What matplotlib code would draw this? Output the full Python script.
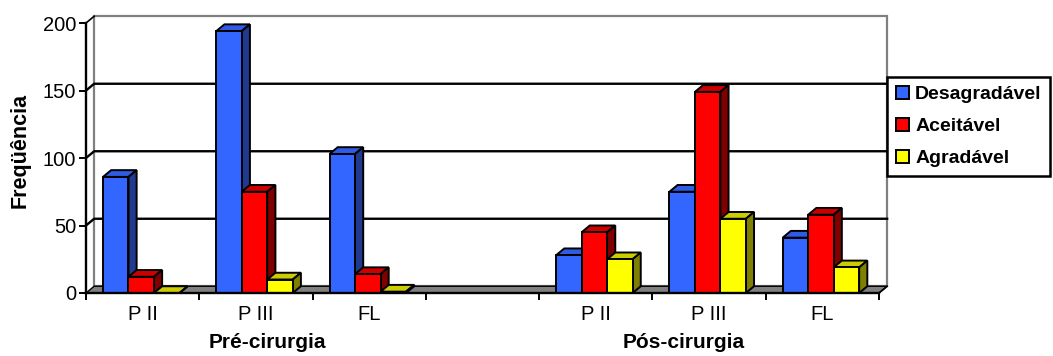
import numpy as np
import matplotlib
matplotlib.use('Agg')
import matplotlib.pyplot as plt
from matplotlib.patches import Polygon, Patch

plt.rcParams['font.family'] = ['Liberation Sans', 'DejaVu Sans']

categories = ['P II', 'P III', 'FL', '', 'P II', 'P III', 'FL']
series = ['Desagradável', 'Aceitável', 'Agradável']
desagradavel = [86, 194, 103, 0, 28, 75, 41]
aceitavel = [12, 75, 14, 0, 45, 149, 58]
agradavel = [0, 10, 1, 0, 25, 55, 19]
has_bar = [True, True, True, False, True, True, True]
groups = ['Pré-cirurgia', 'Pós-cirurgia']
yticks = [0, 50, 100, 150, 200]

front = ['#3366FF', '#FF0000', '#FFFF00']
side = ['#1F3A8F', '#800000', '#808000']
top = ['#2E5CE6', '#CC0000', '#CCCC00']

W, H = 1053, 356
fig = plt.figure(figsize=(W/100, H/100), dpi=100)
ax = fig.add_axes([86/W, (H-293)/H, (879-86)/W, (293-23)/H])
n = len(categories)
ax.set_xlim(0, n)
ax.set_ylim(0, 200)

DX, DY = 0.072, 5.0   # depth offset (category units, value units)
gray = '#808080'

# back wall and floor
ax.add_patch(Polygon([(DX, DY), (n+DX, DY), (n+DX, 200+DY), (DX, 200+DY)],
                     closed=True, fc='white', ec=gray, lw=1.6, clip_on=False, zorder=0))
ax.add_patch(Polygon([(0, 0), (n, 0), (n+DX, DY), (DX, DY)],
                     closed=True, fc=gray, ec='black', lw=1.0, clip_on=False, zorder=1))
for v in yticks[1:-1]:
    ax.plot([0, DX, n+DX], [v, v+DY, v+DY], color='black', lw=1.7, clip_on=False, zorder=0.5)
ax.plot([0, DX], [200, 200+DY], color='black', lw=1.2, clip_on=False, zorder=0.5)
ax.plot([n, n+DX], [0, DY], color='black', lw=1.2, clip_on=False, zorder=2)

# 3d columns
vals = [desagradavel, aceitavel, agradavel]
bw = 0.225
z = 3
for i in range(n):
    if not has_bar[i]:
        continue
    for j in range(3):
        x0 = i + 0.15 + j*bw
        h = vals[j][i]
        ax.bar(x0, h, width=bw, align='edge', color=front[j], edgecolor='black',
               lw=1.4, zorder=z+0.2)
        ax.add_patch(Polygon([(x0, h), (x0+bw, h), (x0+bw+DX, h+DY), (x0+DX, h+DY)],
                             closed=True, fc=top[j], ec='black', lw=1.4, zorder=z))
        ax.add_patch(Polygon([(x0+bw, 0), (x0+bw+DX, DY), (x0+bw+DX, h+DY), (x0+bw, h)],
                             closed=True, fc=side[j], ec='black', lw=1.4, zorder=z))
        z += 1

# axes
for s in ['top', 'right']:
    ax.spines[s].set_visible(False)
ax.spines['left'].set_linewidth(1.7)
ax.spines['bottom'].set_linewidth(1.7)
ax.spines['bottom'].set_zorder(50)
ax.set_yticks(yticks)
ax.set_yticklabels([str(v) for v in yticks], fontsize=14.5)
ax.tick_params(axis='y', length=5, width=1.4, pad=2)
ax.set_xticks(np.arange(n+1))
ax.set_xticklabels([])
ax.tick_params(axis='x', which='major', length=5, width=1.4)
ax.set_xticks(np.arange(n)+0.5, minor=True)
ax.set_xticklabels(categories, minor=True, fontsize=14.5)
ax.tick_params(axis='x', which='minor', length=0, pad=9)

fig.text(20/W, 1-150/H, 'Freqüência', rotation=90, fontsize=15.5, fontweight='bold',
         ha='center', va='center')
fig.text(267/W, 1-342/H, groups[0], fontsize=15, fontweight='bold', ha='center', va='center')
fig.text(684/W, 1-342/H, groups[1], fontsize=15, fontweight='bold', ha='center', va='center')

handles = [Patch(fc=front[j], ec='black', lw=1.4) for j in range(3)]
leg = fig.legend(handles, series, loc='upper left', bbox_to_anchor=(887/W, 1-77/H),
                 borderaxespad=0, fancybox=False, edgecolor='black', framealpha=1,
                 prop={'weight': 'bold', 'size': 14}, handlelength=0.7, handleheight=0.7,
                 handletextpad=0.3, labelspacing=0.74, borderpad=0.45)
leg.get_frame().set_linewidth(1.8)

fig.savefig('out.png', dpi=100)
